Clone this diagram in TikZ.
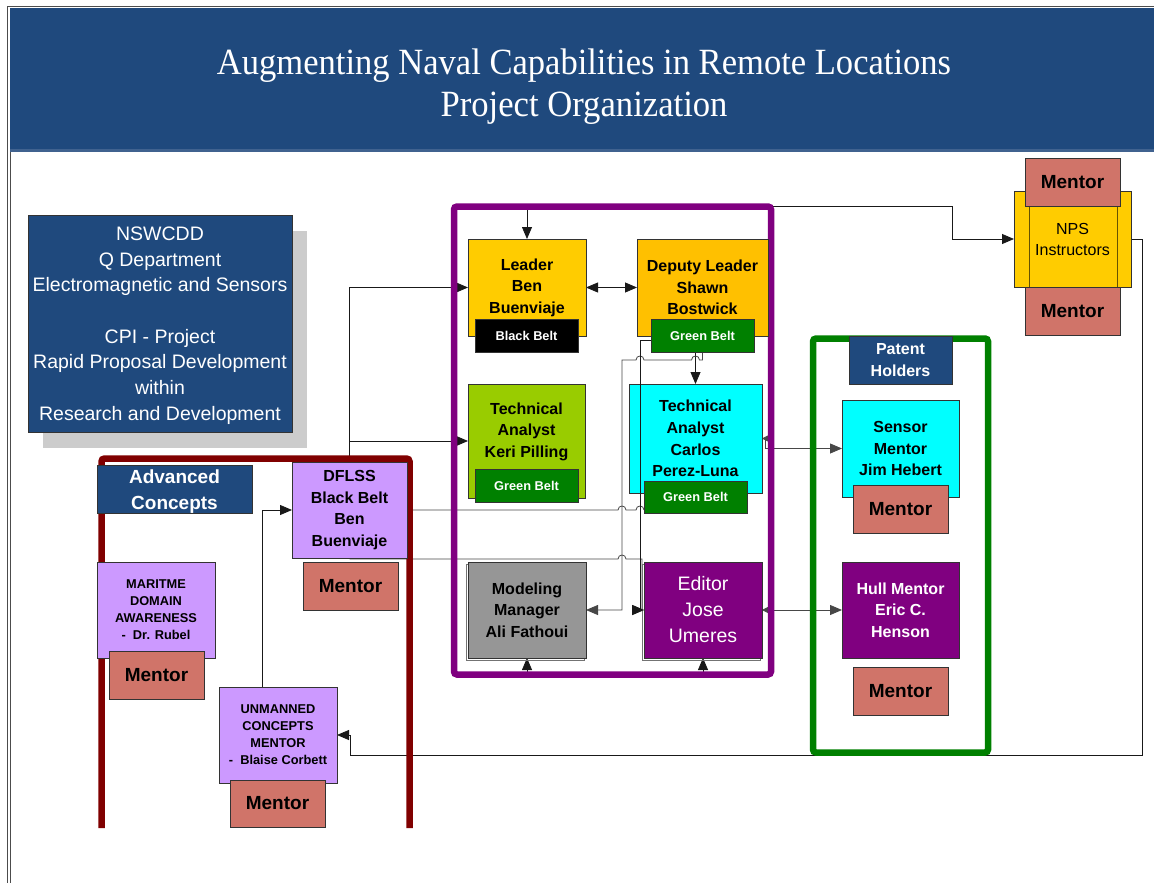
\documentclass[tikz,border=0pt]{standalone}
\usepackage{fontspec}
\usepackage{graphicx}
\setmainfont{Liberation Sans}
\newfontfamily\serifttl{Liberation Serif}
\usetikzlibrary{arrows.meta}

\definecolor{navy}{HTML}{1F497D}
\definecolor{navyedge}{HTML}{40628F}
\definecolor{shadowgray}{HTML}{CCCCCC}
\definecolor{gold}{HTML}{FFCC00}
\definecolor{amber}{HTML}{FFC000}
\definecolor{lime}{HTML}{99CC00}
\definecolor{aqua}{HTML}{00FFFF}
\definecolor{midgray}{HTML}{969696}
\definecolor{purp}{HTML}{800080}
\definecolor{lav}{HTML}{CC99FF}
\definecolor{mentorc}{HTML}{D07469}
\definecolor{grn}{HTML}{008000}
\definecolor{darkred}{HTML}{800000}

\newcommand\personfont{\fontsize{16}{21.6}\selectfont\bfseries}
\newcommand\mentorfont{\fontsize{19}{22}\selectfont\bfseries}
\newcommand\beltfont{\fontsize{12.8}{15}\selectfont\bfseries}
\newcommand\acfont{\fontsize{12.8}{17}\selectfont\bfseries}
\newcommand\nswfont{\fontsize{19.5}{25.7}\selectfont}
\newcommand\editorfont{\fontsize{19.5}{26}\selectfont}
\newcommand\npsfont{\fontsize{16}{21}\selectfont}
\newcommand\groupfont{\fontsize{19}{26}\selectfont\bfseries}
\newcommand\titlesize{\serifttl\fontsize{37}{42}\selectfont}

\pgfdeclarelayer{bg}
\pgfdeclarelayer{wires}
\pgfdeclarelayer{frames}
\pgfdeclarelayer{top}
\pgfsetlayers{bg,wires,frames,main,top}

\begin{document}
\begin{tikzpicture}[x=1pt,y=-1pt,
  base/.style={draw=black!80, line width=0.8pt, inner sep=0pt, outer sep=0pt, align=center, text=black},
  bx/.style 2 args={base, minimum width=#1, minimum height=#2},
  person/.style={font=\personfont},
  label text/.style={align=center, inner sep=0pt},
  mentor/.style={bx={95pt}{48pt}, fill=mentorc, font=\mentorfont},
  belt/.style={bx={103pt}{33pt}, font=\beltfont, text=white},
  framebox/.style={draw, line width=6.5pt, rounded corners=3pt, inner sep=0pt, outer sep=0pt},
  framepath/.style={line width=6.5pt, rounded corners=3pt},
  titletxt/.style={text=white, font=\titlesize, inner sep=0pt},
  wire/.style={draw=black!90, line width=0.8pt},
  wiregray/.style={draw=black!72, line width=0.8pt},
  arr/.style={wire, -{Triangle[length=12pt,width=10pt]}},
  arrgray/.style={wiregray, -{Triangle[length=12pt,width=10pt]}},
  arrboth/.style={wire, {Triangle[length=12pt,width=10pt]}-{Triangle[length=12pt,width=10pt]}},
  arrbi/.style={wiregray, {Triangle[length=6pt,width=6pt]}-{Triangle[length=12pt,width=10pt]}},
  npsinner/.style={draw=black!60!gold, line width=0.8pt},
  offsetline/.style={draw=black!55, line width=0.6pt}
]
\useasboundingbox (0,0) rectangle (1154,883);

% ---------- page, header and shadow ----------
\begin{pgfonlayer}{bg}
  \fill[white] (0,0) rectangle (1154,883);
  \fill[navy] (10,8) rectangle (1154,152);
  \fill[navyedge] (10,148.5) rectangle (1154,152);
  \draw[black!70, line width=0.6pt] (7.5,883) -- (7.5,6.5) -- (1154,6.5);
  \draw[black!70, line width=0.6pt] (10.5,152) -- (10.5,883);
  \fill[shadowgray] (43,231) rectangle (307,448);
\end{pgfonlayer}

\node[titletxt, anchor=base] (title1) at (584,75)
  {\resizebox{734pt}{\height}{Augmenting Naval Capabilities in Remote Locations}};
\node[titletxt, anchor=base] (title2) at (584,117)
  {\resizebox{287pt}{\height}{Project Organization}};

% ---------- group frames ----------
\begin{pgfonlayer}{frames}
  \draw[framepath, draw=darkred] (101.5,828) -- (101.5,458.5) -- (409.5,458.5) -- (409.5,828);
  \node[framebox, draw=purp, minimum width=317pt, minimum height=468pt] (team) at (612.5,440.5) {};
  \node[framebox, draw=grn, minimum width=175pt, minimum height=414pt] (patents) at (900.5,545.5) {};
\end{pgfonlayer}

% ---------- department ----------
\node[bx={264pt}{217pt}, fill=navy] (nsw) at (160,323.5) {};
\node[label text, text=white, font=\nswfont] (nswtext) at (160,325.5)
  {NSWCDD\\Q Department\\Electromagnetic and Sensors\\[25.7pt]CPI - Project\\Rapid Proposal Development\\within\\Research and Development};

% ---------- NPS ----------
\node[bx={117pt}{96pt}, fill=gold, font=\npsfont] (nps) at (1072.5,239) {NPS\\Instructors};
\draw[npsinner] ([xshift=15pt]nps.north west) -- ([xshift=15pt]nps.south west);
\draw[npsinner] ([xshift=-14pt]nps.north east) -- ([xshift=-14pt]nps.south east);
\node[mentor] (npsm1) at (1072.5,182) {Mentor};
\node[mentor] (npsm2) at (1072.5,311.5) {Mentor};

% ---------- project team ----------
\node[bx={118pt}{97pt}, fill=gold, person] (leader) at (527,287.5) {Leader\\Ben\\Buenviaje};
\node[belt, fill=black] (leaderbelt) at (526.5,335.5) {Black Belt};

\node[bx={131pt}{97pt}, fill=amber, person] (deputy) at (702.5,287.5) {Deputy Leader\\Shawn\\Bostwick};
\node[belt, fill=grn] (deputybelt) at (702.5,335.5) {Green Belt};

\node[bx={117pt}{114pt}, fill=lime] (keri) at (526.5,441) {};
\node[person, label text] (keritext) at (526.5,431.5) {Technical\\Analyst\\Keri Pilling};
\node[belt, fill=grn] (keribelt) at (526.5,485.5) {Green Belt};

\node[bx={133pt}{109pt}, fill=aqua, person] (carlos) at (695.5,438.5) {Technical\\Analyst\\Carlos\\Perez-Luna};
\node[belt, fill=grn, minimum height=32pt] (carlosbelt) at (695.5,497) {Green Belt};

\node[bx={118pt}{96pt}, fill=midgray, person] (modeling) at (527,610) {Modeling\\Manager\\Ali Fathoui};
\node[bx={118pt}{96pt}, fill=purp, text=white, font=\editorfont] (editor) at (703,610) {Editor\\Jose\\Umeres};

\begin{pgfonlayer}{frames}
  \draw[offsetline] ([shift={(-2,2)}]modeling.south west) rectangle ([shift={(-2,2)}]modeling.north east);
  \draw[offsetline] ([shift={(-2,2)}]editor.south west) rectangle ([shift={(-2,2)}]editor.north east);
\end{pgfonlayer}

% ---------- patent holders ----------
\node[bx={103pt}{48pt}, fill=navy, text=white, person] (patenthead) at (900.5,360) {Patent\\Holders};
\node[bx={117pt}{97pt}, fill=aqua, person] (sensor) at (900.5,448.5) {Sensor\\Mentor\\Jim Hebert};
\node[mentor] (sensorm) at (900.5,509) {Mentor};
\node[bx={117pt}{96pt}, fill=purp, text=white, person] (hull) at (900.5,610) {Hull Mentor\\Eric C.\\Henson};
\node[mentor] (hullm) at (900.5,691) {Mentor};

% ---------- advanced concepts ----------
\node[bx={155pt}{48pt}, fill=navy] (advanced) at (174.5,489) {};
\node[label text, text=white, font=\groupfont] (advancedtext) at (174.5,491.5) {Advanced\\Concepts};
\node[bx={115pt}{96pt}, fill=lav, person] (dflss) at (349.5,510) {DFLSS\\Black Belt\\Ben\\Buenviaje};
\node[mentor] (dflssm) at (350.5,586) {Mentor};
\node[bx={118pt}{96pt}, fill=lav, font=\acfont] (maritime) at (156,610) {MARITME\\DOMAIN\\AWARENESS\\-~ Dr. Rubel};
\node[mentor] (maritimem) at (156.5,675) {Mentor};
\node[bx={118pt}{96pt}, fill=lav, font=\acfont] (unmanned) at (278,735) {UNMANNED\\CONCEPTS\\MENTOR\\-~ Blaise Corbett};
\node[mentor, minimum height=47pt] (unmannedm) at (277.5,803.5) {Mentor};

% ---------- connectors ----------
\begin{pgfonlayer}{wires}
  \draw[arr] (team.north -| leader.north) -- (leader.north);
  \draw[arr] (team.north east) -- (952,206.5) |- (nps.west);
  \draw[arr] (nps.east) -- ++(11,0) |- (350,755) |- (unmanned.east);
  \draw[arr] ([xshift=-16pt]unmanned.north) |- (dflss.west);
  \draw[arr] (dflss.north) |- (leader.west);
  \draw[arr] (dflss.north) |- (keri.west);
  \draw[arrboth] (leader.east) -- (deputy.west);
  \draw[arr] (deputybelt.south -| carlos.north) -- (carlos.north);
  \draw[arrgray] (deputybelt.south) -- (702.5,360) -- (699.5,360)
     .. controls (699.5,354.7) and (691.5,354.7) .. (691.5,360) -- (644,360)
     .. controls (644,354.7) and (636,354.7) .. (636,360) -- (622,360) -- (622,610) -- (modeling.east);
  \draw[wiregray] (dflss.east) -- (618,510)
     .. controls (618,504.7) and (626,504.7) .. (626,510) -- (636,510)
     .. controls (636,504.7) and (644,504.7) .. (carlosbelt.west |- dflss.east);
  \draw[arrgray] (dflss.south) -- (350,559) -- (618,559)
     .. controls (618,553.7) and (626,553.7) .. (626,559) -- (642,559) -- (642,610) -- (editor.west);
  \draw[arrbi] (carlos.east) -- ++(3,0) |- (sensor.west);
  \draw[arrbi] (editor.east) -- (hull.west);
  \draw[arr] (team.south -| modeling.south) -- (modeling.south);
  \draw[arr] (team.south -| editor.south) -- (editor.south);
\end{pgfonlayer}

\begin{pgfonlayer}{top}
  \draw[arr] ([yshift=-4.5pt]deputybelt.west) -- (640,340) -- (640,610) -- (editor.west);
\end{pgfonlayer}
\end{tikzpicture}
\end{document}
